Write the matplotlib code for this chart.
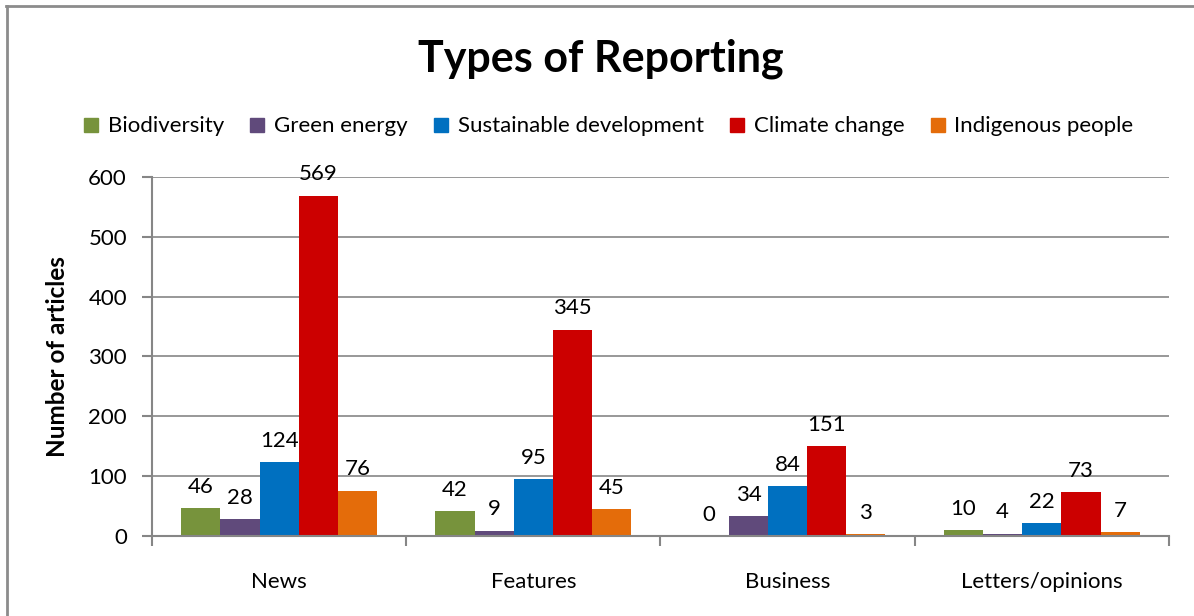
import numpy as np
import matplotlib
matplotlib.use("Agg")
import matplotlib.pyplot as plt
from matplotlib.lines import Line2D

plt.rcParams['font.family'] = ['Lato', 'DejaVu Sans']

categories = ["News", "Features", "Business", "Letters/opinions"]
series = ["Biodiversity", "Green energy", "Sustainable development",
          "Climate change", "Indigenous people"]
biodiversity = [46, 42, 0, 10]
green_energy = [28, 9, 34, 4]
sustainable = [124, 95, 84, 22]
climate = [569, 345, 151, 73]
indigenous = [76, 45, 3, 7]
values = [biodiversity, green_energy, sustainable, climate, indigenous]
colors = ["#77933C", "#604A7B", "#0070C0", "#CC0000", "#E46C0A"]

fig = plt.figure(figsize=(11.94, 6.16), dpi=100)
ax = fig.add_axes([0.1273, 0.1299, 0.979 - 0.1273, 0.7127 - 0.1299])

x = np.arange(len(categories))
w = 0.154
for i in range(len(series)):
    pos = x + (i - 2) * w
    bars = ax.bar(pos, values[i], w, color=colors[i], label=series[i], zorder=3)
    for b, v in zip(bars, values[i]):
        ax.annotate(str(v), (b.get_x() + b.get_width() / 2, v),
                    xytext=(0, 8), textcoords="offset points",
                    ha="center", va="bottom", fontsize=16, color="black")

ax.set_xlim(-0.5, 3.5)
ax.set_ylim(0, 600)
ax.set_yticks([0, 100, 200, 300, 400, 500, 600])
ax.set_xticks(x)
ax.set_xticklabels(categories, fontsize=16)
ax.set_xticks([-0.5, 0.5, 1.5, 2.5, 3.5], minor=True)
ax.tick_params(axis='x', which='major', length=0, pad=26)
ax.tick_params(axis='x', which='minor', length=7, width=1.5, color="#868686")
ax.tick_params(axis='y', length=7, width=1.5, color="#868686", labelsize=16, pad=11)
ax.grid(axis='y', color="#868686", linewidth=1.2, zorder=0)
for s in ['top', 'right']:
    ax.spines[s].set_visible(False)
for s in ['left', 'bottom']:
    ax.spines[s].set_color("#868686")
    ax.spines[s].set_linewidth(1.5)
ax.spines['bottom'].set_zorder(4)
ax.set_ylabel("Number of articles", fontsize=17.5, fontweight='bold', labelpad=14)

fig.text(0.503, 0.905, "Types of Reporting", ha="center", va="center",
         fontsize=31, fontweight="bold")

handles = [Line2D([], [], marker='s', linestyle='none', markersize=10,
                  markerfacecolor=c, markeredgecolor=c) for c in colors]
fig.legend(handles, series, loc="center", bbox_to_anchor=(0.509, 0.795),
           ncol=5, frameon=False, fontsize=16, handlelength=0.8,
           handletextpad=0.35, columnspacing=1.1)

# frame lines along top and left edge
fig.add_artist(Line2D([0.005, 1.0], [0.990, 0.990], transform=fig.transFigure,
                      color="#8c8c8c", linewidth=2))
fig.add_artist(Line2D([0.0055, 0.0055], [0.0, 0.990], transform=fig.transFigure,
                      color="#8c8c8c", linewidth=2))

fig.savefig("out.png", dpi=100)
